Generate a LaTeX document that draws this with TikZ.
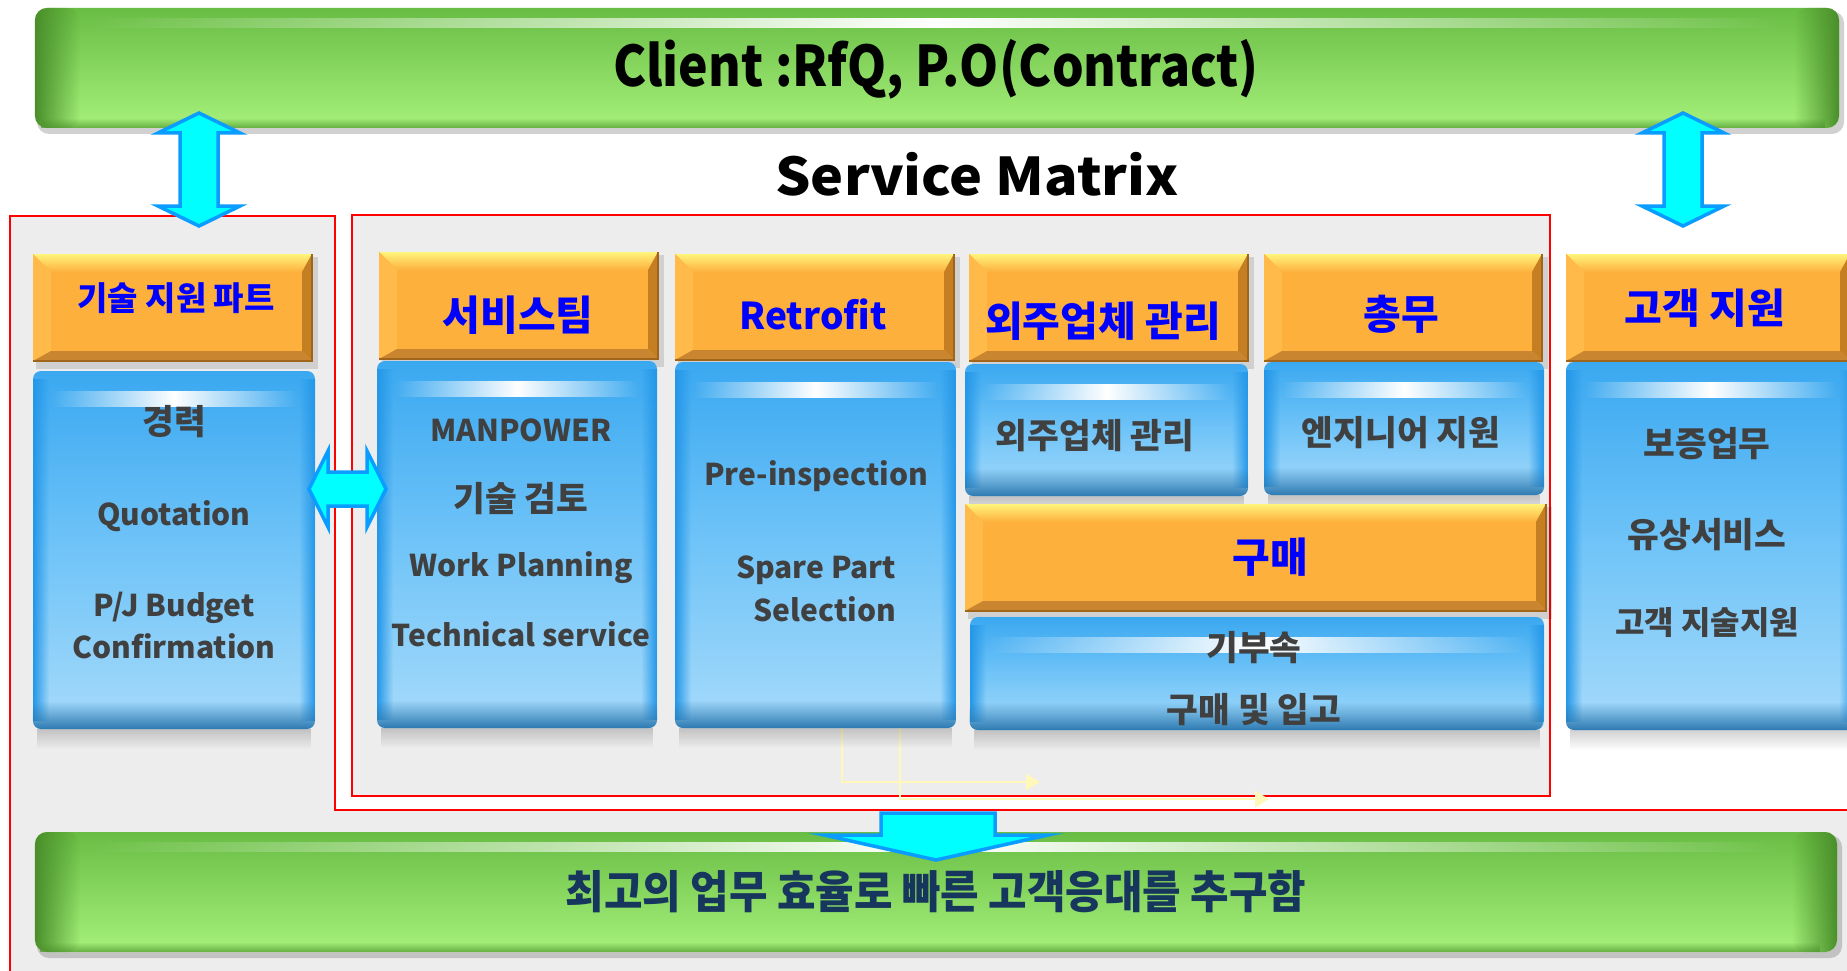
\documentclass[tikz,border=0pt]{standalone}
\usepackage{fontspec}
\setmainfont{Noto Sans CJK KR}
\usetikzlibrary{fadings,arrows.meta}
\definecolor{bggray}{HTML}{EDEDED}
\definecolor{gtop}{HTML}{69BD44}
\definecolor{gbot}{HTML}{A6F17B}
\definecolor{gedge}{HTML}{4A8F2A}
\definecolor{orbase}{HTML}{FDB03C}
\definecolor{oryel}{HTML}{FFF47C}
\definecolor{orleft}{HTML}{FFBA4A}
\definecolor{orright}{HTML}{C57F22}
\definecolor{orbot}{HTML}{C98530}
\definecolor{btop}{HTML}{3AA8F0}
\definecolor{bmid}{HTML}{70C4F8}
\definecolor{bbot}{HTML}{A6DAFA}
\definecolor{bdark}{HTML}{2C7AB2}
\definecolor{bedge}{HTML}{2497E8}
\definecolor{hblue}{HTML}{0000FF}
\definecolor{bodytxt}{HTML}{404040}
\definecolor{navy}{HTML}{17365D}
\definecolor{arrfill}{HTML}{00FFFF}
\definecolor{arrline}{HTML}{0A9CFF}
\definecolor{faintyel}{HTML}{FFF8B8}
\tikzfading[name=streak, left color=transparent!100, right color=transparent!100, middle color=transparent!0]
\tikzfading[name=fadeR, left color=transparent!0, right color=transparent!100]
\tikzfading[name=fadeL, left color=transparent!100, right color=transparent!0]
\tikzfading[name=fadeD, top color=transparent!0, bottom color=transparent!100]
\tikzfading[name=fadeU, top color=transparent!100, bottom color=transparent!0]
\newcommand\grnbar[4]{%
  \fill[black, opacity=0.18, rounded corners=12] (#1+2,#2+3) rectangle (#3+5,#4+6);
  \shade[rounded corners=12, top color=gtop, bottom color=gbot] (#1,#2) rectangle (#3,#4);
  \fill[gedge, path fading=fadeR, rounded corners=12] (#1,#2) rectangle (#1+45,#4);
  \fill[gedge, path fading=fadeL, rounded corners=12] (#3-45,#2) rectangle (#3,#4);
  \fill[gedge, opacity=0.7, path fading=fadeU] (#1+8,#4-10) rectangle (#3-8,#4);
  \fill[white, path fading=streak] (#1+60,#2+10) rectangle (#3-60,#2+20);
}
\newcommand\orabox[4]{%
  \fill[black, opacity=0.12] (#1+3,#2+3) rectangle (#3+6,#4+8);
  \fill[orbase] (#1,#2) rectangle (#3,#4);
  \shade[top color=oryel, bottom color=orbase] (#1,#2) -- (#3,#2) -- (#3-10,#2+18) -- (#1+18,#2+18) -- cycle;
  \fill[orleft] (#1,#2) -- (#1+18,#2+18) -- (#1+18,#4-10) -- (#1,#4) -- cycle;
  \fill[orright] (#3,#2) -- (#3-10,#2+18) -- (#3-10,#4-10) -- (#3,#4) -- cycle;
  \fill[orbot] (#1,#4) -- (#1+18,#4-10) -- (#3-10,#4-10) -- (#3,#4) -- cycle;
  \draw[orright!80!black, line width=1.2] (#1,#4) -- (#3,#4) -- (#3,#2);
}
\newcommand\blubox[4]{%
  \fill[black, opacity=0.18, path fading=fadeD] (#1+4,#4) rectangle (#3-4,#4+20);
  \shade[rounded corners=8, top color=btop, bottom color=bbot, middle color=bmid] (#1,#2) rectangle (#3,#4);
  \fill[bedge, path fading=fadeR] (#1,#2+8) rectangle (#1+16,#4-8);
  \fill[bedge, path fading=fadeL] (#3-16,#2+8) rectangle (#3,#4-8);
  \fill[bdark, path fading=fadeU, rounded corners=8] (#1,#4-28) rectangle (#3,#4);
  \fill[white, path fading=streak] (#1+18,#2+20) rectangle (#3-18,#2+36);
}
\begin{document}
\begin{tikzpicture}[x=1pt,y=-1pt,
  headtext/.style={text=hblue, inner sep=0, anchor=base, font=\bfseries\fontsize{41}{44}\selectfont},
  headlat/.style={headtext, font=\bfseries\fontsize{37}{40}\selectfont},
  bodytext/.style={text=bodytxt, inner sep=0, anchor=base, font=\bfseries\fontsize{34.5}{38}\selectfont},
  bodylat/.style={bodytext, font=\bfseries\fontsize{30}{34}\selectfont},
  blockarrow/.style={fill=arrfill, draw=arrline, line width=3.5, line join=miter},
  faint/.style={draw=faintyel, line width=2.5, -{Triangle[length=14pt,width=16pt]}},
  redline/.style={draw=red, line width=1.2}]
\useasboundingbox (0,0) rectangle (1847,971);
\fill[white] (0,0) rectangle (1847,971);
% background regions
\fill[bggray] (10,971) -- (10,216) -- (335,216) -- (335,810) -- (1847,810) -- (1847,971) -- cycle;
\draw[redline] (10,971) -- (10,216) -- (335,216) -- (335,810) -- (1847,810);
\draw[red, line width=2.5, fill=bggray] (352,215) rectangle (1550,796);
% faint yellow arrows
\coordinate (fa1) at (842,545);
\coordinate (fb1) at (1040,782);
\coordinate (fa2) at (900,545);
\coordinate (fb2) at (1269,799);
\draw[faint] (fa1) |- (fb1);
\draw[faint] (fa2) |- (fb2);
% green bars
\grnbar{35}{8}{1839}{128}
\grnbar{35}{832}{1837}{952}
\node[inner sep=0, anchor=base, font=\bfseries\fontsize{56}{60}\selectfont] (client) at (936,87) {\scalebox{0.89}[1]{Client :RfQ, P.O(Contract)}};
\node[inner sep=0, anchor=base, font=\bfseries\fontsize{52}{60}\selectfont] (title) at (977,195) {\scalebox{1.07}[1]{Service Matrix}};
% left column
\orabox{33}{254}{312}{361}
\node[headtext, font=\bfseries\fontsize{33}{36}\selectfont] (h1) at (176,310) {기술 지원 파트};
\blubox{33}{371}{315}{729}
\node[bodytext] (t11) at (174,434) {경력};
\node[bodylat] (t12) at (174,525) {Quotation};
\node[bodylat] (t13) at (174,616) {P/J Budget};
\node[bodylat] (t14) at (174,658) {Confirmation};
% service team
\orabox{379}{252}{658}{359}
\node[headtext] (h2) at (518,330) {서비스팀};
\blubox{377}{361}{657}{728}
\node[bodylat] (t21) at (521,441) {MANPOWER};
\node[bodytext] (t22) at (521,511) {기술 검토};
\node[bodylat] (t23) at (521,576) {Work Planning};
\node[bodylat] (t24) at (521,646) {Technical service};
% retrofit
\orabox{675}{254}{954}{360}
\node[headlat] (h3) at (813,329) {Retrofit};
\blubox{675}{362}{956}{728}
\node[bodylat] (t31) at (816,485) {Pre-inspection};
\node[bodylat] (t32) at (816,578) {Spare Part};
\node[bodylat] (t33) at (825,621) {Selection};
% outsourcing
\orabox{969}{254}{1248}{361}
\node[headtext] (h4) at (1103,336) {외주업체 관리};
\blubox{965}{364}{1248}{496}
\node[bodytext] (t41) at (1095,448) {외주업체 관리};
% general affairs
\orabox{1264}{254}{1542}{361}
\node[headtext] (h5) at (1401,329) {총무};
\blubox{1264}{362}{1544}{495}
\node[bodytext] (t51) at (1401,445) {엔지니어 지원};
% purchasing
\orabox{965}{504}{1546}{611}
\node[headtext] (h6) at (1270,572) {구매};
\blubox{970}{617}{1544}{730}
\node[bodytext] (t61) at (1254,660) {기부속};
\node[bodytext] (t62) at (1254,722) {구매 및 입고};
% customer support
\orabox{1566}{254}{1850}{361}
\node[headtext] (h7) at (1705,323) {고객 지원};
\blubox{1566}{362}{1855}{730}
\node[bodytext] (t71) at (1707,456) {보증업무};
\node[bodytext] (t72) at (1707,547) {유상서비스};
\node[bodytext, font=\bfseries\fontsize{32}{36}\selectfont] (t73) at (1707,634) {고객 지술지원};
% bottom text
\node[inner sep=0, anchor=base, text=navy, font=\bfseries\fontsize{45}{48}\selectfont] (goal) at (936,908) {\scalebox{0.93}[1]{최고의 업무 효율로 빠른 고객응대를 추구함}};
% block arrows
\draw[blockarrow] (199,113) -- (240,133) -- (218,133) -- (218,206) -- (240,206) -- (199,226) -- (158,206) -- (180,206) -- (180,133) -- (158,133) -- cycle;
\draw[blockarrow] (1683,113) -- (1724,133) -- (1702,133) -- (1702,206) -- (1724,206) -- (1683,226) -- (1642,206) -- (1664,206) -- (1664,133) -- (1642,133) -- cycle;
\draw[blockarrow] (309,489) -- (328,451) -- (328,472) -- (367,472) -- (367,451) -- (386,489) -- (367,527) -- (367,506) -- (328,506) -- (328,527) -- cycle;
\draw[blockarrow] (881,813) -- (995,813) -- (995,835) -- (1048,835) -- (936,860) -- (824,835) -- (881,835) -- cycle;
\end{tikzpicture}
\end{document}
